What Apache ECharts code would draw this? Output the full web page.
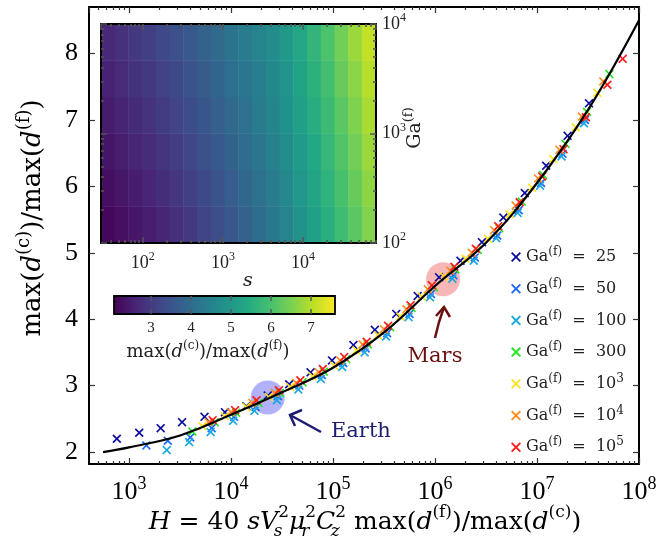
<!DOCTYPE html>
<html><head><meta charset="utf-8">
<script src="https://cdn.jsdelivr.net/npm/echarts@6/dist/echarts.min.js"></script>
<style>html,body{margin:0;padding:0;background:#fff}#c{width:670px;height:549px}</style>
</head><body><div id="c"></div>
<script>
// ---------- data ----------
const curveH = [556, 1000, 3162, 10000, 31623, 100000, 316228, 1000000, 3162278, 10000000, 31622777, 100000000];
const curveY = [2.00, 2.07, 2.25, 2.56, 2.90, 3.27, 3.80, 4.50, 5.15, 6.05, 7.15, 8.50];

const gaNames = ['25', '50', '100', '300', '10^3', '10^4', '10^5'];
const gaColors = ['#0c0ca0', '#1a66ff', '#18a8e0', '#1ee61e', '#ffe01a', '#ff8c1a', '#ff1a1a'];

const ga25H = [759, 1259, 2042, 3311, 5495, 8710, 14125, 22909, 37154, 60256, 97724, 158489, 257040, 416869, 676083, 1096000, 1778000, 2884000, 4677000, 7586000, 12300000, 19950000, 32360000];
const ga25Y = [2.20, 2.29, 2.36, 2.45, 2.53, 2.60, 2.69, 2.85, 3.02, 3.20, 3.38, 3.61, 3.84, 4.08, 4.35, 4.63, 4.88, 5.16, 5.53, 5.90, 6.31, 6.76, 7.25];
const ga50H = [1479, 2399, 3981, 6457, 10715, 17378, 28840, 46774, 77625, 125893, 208930, 338844, 562341, 912011, 1514000, 2455000, 4074000, 6607000, 10960000, 17780000, 29510000];
const ga50Y = [2.10, 2.17, 2.22, 2.36, 2.53, 2.68, 2.84, 3.00, 3.16, 3.34, 3.56, 3.79, 4.08, 4.38, 4.66, 4.93, 5.26, 5.64, 6.05, 6.49, 7.00];
const ga100H = [2344, 3890, 6310, 10471, 16982, 28184, 45709, 75858, 123027, 204174, 331131, 549541, 891251, 1479000, 2399000, 3981000, 6457000, 10720000, 17380000, 28840000];
const ga100Y = [2.03, 2.15, 2.30, 2.47, 2.62, 2.78, 2.94, 3.10, 3.28, 3.50, 3.74, 4.03, 4.33, 4.61, 4.88, 5.22, 5.60, 6.01, 6.45, 6.95];
const ga300H = [4169, 6918, 11220, 18621, 30200, 50119, 81283, 134896, 218776, 363078, 588844, 977237, 1585000, 2630000, 4266000, 7079000, 11480000, 19050000, 30900000, 51290000];
const ga300Y = [2.31, 2.45, 2.59, 2.74, 2.89, 3.05, 3.21, 3.40, 3.62, 3.88, 4.17, 4.48, 4.75, 5.04, 5.37, 5.77, 6.17, 6.64, 7.12, 7.69];
const ga1e3H = [5248, 8710, 14125, 23442, 38019, 63096, 102329, 169824, 275423, 457088, 741310, 1230000, 1995000, 3311000, 5370000, 8913000, 14450000, 23990000, 38900000];
const ga1e3Y = [2.39, 2.54, 2.68, 2.83, 2.98, 3.14, 3.30, 3.53, 3.76, 4.04, 4.34, 4.64, 4.91, 5.21, 5.58, 5.98, 6.41, 6.89, 7.41];
const ga1e4H = [6026, 10000, 16218, 26915, 43652, 72444, 117490, 194984, 316228, 524807, 851138, 1413000, 2291000, 3802000, 6166000, 10230000, 16600000, 27540000, 44670000];
const ga1e4Y = [2.45, 2.60, 2.74, 2.89, 3.04, 3.20, 3.38, 3.62, 3.85, 4.15, 4.45, 4.73, 5.00, 5.34, 5.71, 6.12, 6.55, 7.05, 7.58];
const ga1e5H = [6607, 10965, 17783, 29512, 47863, 79433, 128825, 213796, 346737, 575440, 933254, 1549000, 2512000, 4169000, 6761000, 11220000, 18200000, 30200000, 48980000, 69180000];
const ga1e5Y = [2.48, 2.63, 2.78, 2.93, 3.08, 3.25, 3.43, 3.66, 3.90, 4.21, 4.51, 4.79, 5.06, 5.40, 5.76, 6.15, 6.56, 7.04, 7.53, 7.92];

const earthPoint = [22900, 2.82];
const marsPoint = [1200000, 4.60];

// inset: columns in s (log-spaced cells), rows in Ga(f), bottom row first
const sCols = ['36', '54', '80', '119', '177', '264', '392', '582', '865', '1283', '1905', '2831', '4207', '6252', '9290', '13800', '20510', '30480', '45190', '67140'];
const gaRows = ['147', '316', '681', '1468', '3162', '6808'];
const heatRow0 = [2.17, 2.29, 2.41, 2.53, 2.66, 2.82, 2.99, 3.18, 3.38, 3.58, 3.81, 4.04, 4.28, 4.55, 4.89, 5.20, 5.52, 5.86, 6.18, 6.55];
const heatRow1 = [2.28, 2.40, 2.52, 2.65, 2.78, 2.94, 3.11, 3.30, 3.50, 3.70, 3.92, 4.14, 4.38, 4.64, 4.98, 5.30, 5.62, 5.97, 6.30, 6.66];
const heatRow2 = [2.39, 2.51, 2.64, 2.76, 2.90, 3.06, 3.24, 3.43, 3.62, 3.82, 4.03, 4.24, 4.47, 4.74, 5.07, 5.39, 5.72, 6.08, 6.41, 6.77];
const heatRow3 = [2.50, 2.63, 2.75, 2.88, 3.02, 3.19, 3.36, 3.55, 3.75, 3.94, 4.14, 4.35, 4.57, 4.83, 5.17, 5.49, 5.82, 6.18, 6.53, 6.88];
const heatRow4 = [2.61, 2.74, 2.87, 2.99, 3.14, 3.31, 3.49, 3.68, 3.87, 4.06, 4.25, 4.45, 4.66, 4.93, 5.26, 5.58, 5.92, 6.29, 6.64, 6.99];
const heatRow5 = [2.72, 2.85, 2.98, 3.11, 3.26, 3.43, 3.61, 3.80, 3.99, 4.18, 4.36, 4.55, 4.76, 5.02, 5.35, 5.68, 6.02, 6.40, 6.76, 7.10];

const yTicks = [2, 3, 4, 5, 6, 7, 8];
const cbTicks = [3, 4, 5, 6, 7];

// ---------- helpers ----------
const F = 'Liberation Serif';
const D = 'DejaVu Serif';
const viridis = ['#440154', '#482475', '#414487', '#355f8d', '#2a788e', '#21918c', '#22a884', '#44bf70', '#7ad151', '#bddf26', '#fde725'];
const xMainMin = 405, xMainMax = 1e8, yMainMin = 1.82, yMainMax = 8.7;
const sMin = 30, sMax = 81700, gaMin = 100, gaMax = 10000;
const cbMin = 2.075, cbMax = 7.6;
const L10 = Math.log10;
function minors(lo, hi) {
  const out = [];
  for (let e = Math.floor(lo); e <= Math.ceil(hi); e++)
    for (let m = 2; m <= 9; m++) { const v = L10(m) + e; if (v > lo && v < hi) out.push(v); }
  return out;
}
const X = 'path://M0,1.3 L1.3,0 L5,3.7 L8.7,0 L10,1.3 L6.3,5 L10,8.7 L8.7,10 L5,6.3 L1.3,10 L0,8.7 L3.7,5 Z';
const zip = (a, b) => a.map((v, i) => [v, b[i]]);
const supFmt = v => '10{sup|' + Math.round(L10(v)) + '}';
const richT = (fam, base, sup) => ({
  i: { fontFamily: fam, fontSize: base, fontStyle: 'italic' },
  sup: { fontFamily: fam, fontSize: sup, lineHeight: sup, verticalAlign: 'top' },
  sub: { fontFamily: fam, fontSize: sup, lineHeight: sup, verticalAlign: 'bottom', fontStyle: 'italic' },
  subz: { fontFamily: fam, fontSize: sup, lineHeight: sup, verticalAlign: 'bottom', fontStyle: 'italic', width: 0 }
});

const mainTick = { color: '#333', width: 1.2 };
const insetTick = { color: '#555', width: 1.5 };
const noLine = { show: false };
function axis(o) { return Object.assign({ splitLine: { show: false }, minorTick: { show: false }, minorSplitLine: { show: false } }, o); }

const xAxes = [
  axis({ type: 'log', logBase: 10, gridIndex: 0, min: xMainMin, max: xMainMax, position: 'bottom', z: 6,
    axisLine: { show: true, lineStyle: { color: '#000', width: 2 } },
    axisTick: { inside: true, length: 6, lineStyle: mainTick },
    axisLabel: { showMinLabel: false, margin: 11, color: '#000', fontFamily: F, fontSize: 26, lineHeight: 34, formatter: supFmt, rich: richT(F, 26, 18) } }),
  axis({ type: 'value', gridIndex: 0, min: L10(xMainMin), max: L10(xMainMax), position: 'bottom', z: 6, axisLine: noLine, axisLabel: { show: false },
    axisTick: { inside: true, length: 3, lineStyle: mainTick, customValues: minors(L10(xMainMin), L10(xMainMax)) } }),
  axis({ type: 'log', logBase: 10, gridIndex: 0, min: xMainMin, max: xMainMax, position: 'top', z: 6,
    axisLine: { show: true, lineStyle: { color: '#000', width: 2 } },
    axisTick: { inside: true, length: 6, lineStyle: mainTick }, axisLabel: { show: false } }),
  axis({ type: 'value', gridIndex: 0, min: L10(xMainMin), max: L10(xMainMax), position: 'top', z: 6, axisLine: noLine, axisLabel: { show: false },
    axisTick: { inside: true, length: 3, lineStyle: mainTick, customValues: minors(L10(xMainMin), L10(xMainMax)) } }),
  { type: 'category', gridIndex: 1, data: sCols, show: false },
  axis({ type: 'log', logBase: 10, gridIndex: 2, min: sMin, max: sMax, position: 'bottom', z: 6,
    axisLine: { show: true, lineStyle: { color: '#000', width: 2 } },
    axisTick: { inside: true, length: 6, lineStyle: insetTick },
    axisLabel: { showMinLabel: false, showMaxLabel: false, margin: 8, color: '#222', fontFamily: F, fontSize: 18, lineHeight: 24, formatter: supFmt, rich: richT(F, 18, 12) } }),
  axis({ type: 'value', gridIndex: 2, min: L10(sMin), max: L10(sMax), position: 'bottom', z: 6, axisLine: noLine, axisLabel: { show: false },
    axisTick: { inside: true, length: 3, lineStyle: insetTick, customValues: minors(L10(sMin), L10(sMax)) } }),
  axis({ type: 'log', logBase: 10, gridIndex: 2, min: sMin, max: sMax, position: 'top', z: 6,
    axisLine: { show: true, lineStyle: { color: '#000', width: 2 } },
    axisTick: { inside: true, length: 6, lineStyle: insetTick }, axisLabel: { show: false } }),
  axis({ type: 'value', gridIndex: 2, min: L10(sMin), max: L10(sMax), position: 'top', z: 6, axisLine: noLine, axisLabel: { show: false },
    axisTick: { inside: true, length: 3, lineStyle: insetTick, customValues: minors(L10(sMin), L10(sMax)) } }),
  axis({ type: 'value', gridIndex: 3, min: cbMin, max: cbMax, position: 'bottom', z: 6, axisLine: noLine,
    axisTick: { inside: true, length: 5, lineStyle: insetTick, customValues: cbTicks },
    axisLabel: { margin: 7, color: '#222', fontFamily: F, fontSize: 15, customValues: cbTicks } }),
  axis({ type: 'value', gridIndex: 3, min: cbMin, max: cbMax, position: 'top', z: 6, axisLine: noLine, axisLabel: { show: false },
    axisTick: { inside: true, length: 5, lineStyle: insetTick, customValues: cbTicks } })
];

const yAxes = [
  axis({ type: 'value', gridIndex: 0, min: yMainMin, max: yMainMax, position: 'left', z: 6,
    axisLine: { show: true, lineStyle: { color: '#000', width: 2 } },
    axisTick: { inside: true, length: 6, lineStyle: mainTick, customValues: yTicks },
    axisLabel: { margin: 11, color: '#000', fontFamily: F, fontSize: 26, customValues: yTicks } }),
  axis({ type: 'value', gridIndex: 0, min: yMainMin, max: yMainMax, position: 'right', z: 6,
    axisLine: { show: true, lineStyle: { color: '#000', width: 2 } },
    axisTick: { inside: true, length: 6, lineStyle: mainTick, customValues: yTicks }, axisLabel: { show: false } }),
  { type: 'category', gridIndex: 1, data: gaRows, show: false },
  axis({ type: 'log', logBase: 10, gridIndex: 2, min: gaMin, max: gaMax, position: 'left', z: 6,
    axisLine: { show: true, lineStyle: { color: '#000', width: 2 } },
    axisTick: { inside: true, length: 6, lineStyle: insetTick }, axisLabel: { show: false } }),
  axis({ type: 'value', gridIndex: 2, min: L10(gaMin), max: L10(gaMax), position: 'left', z: 6, axisLine: noLine, axisLabel: { show: false },
    axisTick: { inside: true, length: 3, lineStyle: insetTick, customValues: minors(L10(gaMin), L10(gaMax)) } }),
  axis({ type: 'log', logBase: 10, gridIndex: 2, min: gaMin, max: gaMax, position: 'right', z: 6,
    axisLine: { show: true, lineStyle: { color: '#000', width: 2 } },
    axisTick: { inside: true, length: 6, lineStyle: insetTick },
    axisLabel: { margin: 6, color: '#222', fontFamily: F, fontSize: 18, lineHeight: 24, formatter: supFmt, rich: richT(F, 18, 12) } }),
  axis({ type: 'value', gridIndex: 2, min: L10(gaMin), max: L10(gaMax), position: 'right', z: 6, axisLine: noLine, axisLabel: { show: false },
    axisTick: { inside: true, length: 3, lineStyle: insetTick, customValues: minors(L10(gaMin), L10(gaMax)) } }),
  { type: 'value', gridIndex: 3, min: 0, max: 1, show: false }
];

const gaH = [ga25H, ga50H, ga100H, ga300H, ga1e3H, ga1e4H, ga1e5H];
const gaY = [ga25Y, ga50Y, ga100Y, ga300Y, ga1e3Y, ga1e4Y, ga1e5Y];

const heatRows = [heatRow0, heatRow1, heatRow2, heatRow3, heatRow4, heatRow5];
const heatData = [];
heatRows.forEach((row, yi) => row.forEach((v, xi) => heatData.push([xi, yi, v])));

const series = [
  { type: 'scatter', xAxisIndex: 0, yAxisIndex: 0, data: [earthPoint], symbolSize: 34, z: 1, silent: true,
    itemStyle: { color: 'rgba(100,100,245,0.62)' } },
  { type: 'scatter', xAxisIndex: 0, yAxisIndex: 0, data: [marsPoint], symbolSize: 34, z: 1, silent: true,
    itemStyle: { color: 'rgba(240,90,90,0.55)' } }
];
gaNames.forEach((n, i) => series.push({
  name: n, type: 'scatter', xAxisIndex: 0, yAxisIndex: 0, data: zip(gaH[i], gaY[i]),
  symbol: X, symbolSize: 9, z: 3, itemStyle: { color: gaColors[i], opacity: 1 }
}));
series.push({ type: 'line', xAxisIndex: 0, yAxisIndex: 0, data: zip(curveH, curveY), smooth: 0.4,
  showSymbol: false, z: 4, lineStyle: { color: '#000', width: 2.2 } });
series.push({ type: 'heatmap', xAxisIndex: 4, yAxisIndex: 2, data: heatData, z: 2 });
const heatIdx = series.length - 1;

const legendFmt = n => 'Ga{sup|(f)}  =  ' + (n.indexOf('^') >= 0 ? '10{sup2|' + n.split('^')[1] + '}' : n);
const gradStops = viridis.map((c, i) => ({ offset: i / (viridis.length - 1), color: c }));

const option = {
  animation: false,
  backgroundColor: '#fff',
  grid: [
    { left: 89, top: 7, width: 550, height: 457 },
    { left: 101, top: 24, width: 275, height: 219 },
    { left: 101, top: 24, width: 275, height: 219 },
    { left: 114, top: 296, width: 221, height: 18 }
  ],
  xAxis: xAxes,
  yAxis: yAxes,
  visualMap: { type: 'continuous', show: false, min: cbMin, max: cbMax, dimension: 2, seriesIndex: heatIdx, inRange: { color: viridis } },
  legend: {
    orient: 'vertical', left: 506, top: 241, itemWidth: 10, itemHeight: 10, itemGap: 9.7,
    data: gaNames, formatter: legendFmt,
    textStyle: { fontFamily: D, fontSize: 16, lineHeight: 22, color: '#222',
      rich: { sup: { fontFamily: D, fontSize: 12, lineHeight: 12, verticalAlign: 'top' }, sup2: { fontFamily: D, fontSize: 12, lineHeight: 14, verticalAlign: 'top' } } }
  },
  series: series,
  graphic: [
    { type: 'rect', z: 1, shape: { x: 114, y: 296, width: 221, height: 18 },
      style: { fill: new echarts.graphic.LinearGradient(0, 0, 1, 0, gradStops), stroke: '#000', lineWidth: 1.8 } },
    { type: 'text', z: 10, x: 33, y: 218, rotation: Math.PI / 2,
      style: { text: 'max({i|d}{sup|(c)})/max({i|d}{sup|(f)})', fontFamily: D, fontSize: 26, lineHeight: 36, align: 'center', verticalAlign: 'middle', fill: '#000', rich: richT(D, 26, 18) } },
    { type: 'text', z: 10, x: 365, y: 522,
      style: { text: '{i|H} = 40 {i|sV}{subz|s}{sup|2}{i|μ}{subz|r}{sup|2}{i|C}{subz|z}{sup|2} max({i|d}{sup|(f)})/max({i|d}{sup|(c)})', fontFamily: D, fontSize: 25, lineHeight: 36, align: 'center', verticalAlign: 'middle', fill: '#000', rich: richT(D, 25, 17) } },
    { type: 'text', z: 10, x: 248, y: 281,
      style: { text: 's', fontFamily: D, fontSize: 19, fontStyle: 'italic', align: 'center', verticalAlign: 'middle', fill: '#222' } },
    { type: 'text', z: 10, x: 415, y: 128, rotation: Math.PI / 2,
      style: { text: 'Ga{sup|(f)}', fontFamily: D, fontSize: 19, lineHeight: 26, align: 'center', verticalAlign: 'middle', fill: '#222', rich: richT(D, 19, 13) } },
    { type: 'text', z: 10, x: 208, y: 352,
      style: { text: 'max({i|d}{sup|(c)})/max({i|d}{sup|(f)})', fontFamily: D, fontSize: 18, lineHeight: 24, align: 'center', verticalAlign: 'middle', fill: '#222', rich: richT(D, 18, 12) } },
    { type: 'polyline', z: 10, shape: { points: [[321, 432], [290, 415]] }, style: { stroke: '#1c1c72', lineWidth: 2.5, fill: null } },
    { type: 'polyline', z: 10, shape: { points: [[302, 410], [290, 415], [295, 426]] }, style: { stroke: '#1c1c72', lineWidth: 2.5, fill: null } },
    { type: 'text', z: 10, x: 331, y: 432, style: { text: 'Earth', fontFamily: D, fontSize: 21, align: 'left', verticalAlign: 'middle', fill: '#1c1c72' } },
    { type: 'polyline', z: 10, shape: { points: [[435, 338], [439, 322], [444, 307]] }, style: { stroke: '#6b1010', lineWidth: 2.5, fill: null } },
    { type: 'polyline', z: 10, shape: { points: [[436, 316], [444, 307], [450, 317]] }, style: { stroke: '#6b1010', lineWidth: 2.5, fill: null } },
    { type: 'text', z: 10, x: 435, y: 357, style: { text: 'Mars', fontFamily: D, fontSize: 21, align: 'center', verticalAlign: 'middle', fill: '#6b1010' } }
  ]
};

const chart = echarts.init(document.getElementById('c'), null, { renderer: 'canvas' });
chart.setOption(option);
</script>
</body></html>
